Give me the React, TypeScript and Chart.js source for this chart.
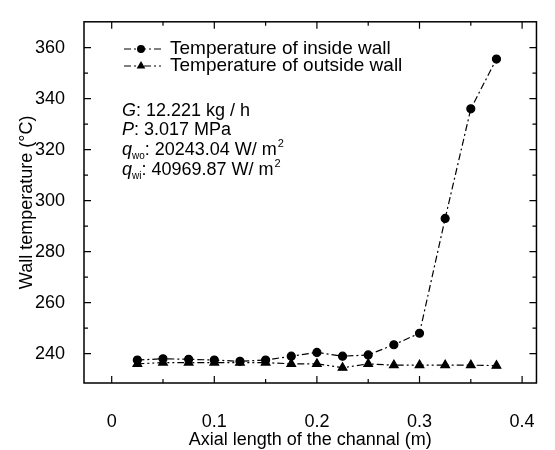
import { useEffect, useRef } from "react";
import { Chart, registerables } from "chart.js";

Chart.register(...registerables);

// Axial positions along the channel (m)
const axialLength = [0.025, 0.05, 0.075, 0.1, 0.125, 0.15, 0.175, 0.2, 0.225, 0.25, 0.275, 0.3, 0.325, 0.35, 0.375];
// Wall temperatures (°C)
const insideWall = [237.5, 238, 237.8, 237.5, 237, 237.5, 239, 240.5, 239, 239.5, 243.5, 248, 293, 336, 355.5];
const outsideWall = [236, 236.5, 236.5, 236.5, 236.5, 236.5, 236, 236, 234.5, 236, 235.5, 235.5, 235.5, 235.5, 235.3];

const seriesLabels = ["Temperature of inside wall", "Temperature of outside wall"];

const xMajorTicks = [0, 0.1, 0.2, 0.3, 0.4];
const xMinorTicks = [0.05, 0.15, 0.25, 0.35];
const yMajorTicks = [240, 260, 280, 300, 320, 340, 360];
const yMinorTicks = [250, 270, 290, 310, 330, 350];

// Operating conditions block
const conditionSymbols = ["G", "P", "q", "q"];
const conditionSubscripts = ["", "", "wo", "wi"];
const conditionValues = [": 12.221 kg / h", ": 3.017 MPa", ": 20243.04 W/ m", ": 40969.87 W/ m"];
const conditionSuperscripts = ["", "", "2", "2"];

const FONT = "'Liberation Sans', Arial, sans-serif";

function drawMarker(ctx: CanvasRenderingContext2D, style: string, r: number, x: number, y: number) {
  ctx.beginPath();
  if (style === "triangle") {
    ctx.moveTo(x, y - r);
    ctx.lineTo(x + r * 0.866, y + r * 0.5);
    ctx.lineTo(x - r * 0.866, y + r * 0.5);
    ctx.closePath();
  } else {
    ctx.arc(x, y, r, 0, Math.PI * 2);
  }
  ctx.fill();
}

// Closed frame with inward major/minor ticks on all four sides
const framePlugin = {
  id: "frame",
  afterDraw(chart: any) {
    const { ctx, chartArea: a, scales } = chart;
    const xs = scales.x;
    const ys = scales.y;
    ctx.save();
    ctx.strokeStyle = "#000";
    ctx.lineWidth = 1.5;
    ctx.setLineDash([]);
    ctx.strokeRect(a.left, a.top, a.right - a.left, a.bottom - a.top);

    ctx.lineWidth = 1.2;
    const tickX = (v: number, len: number) => {
      const px = xs.getPixelForValue(v);
      ctx.beginPath();
      ctx.moveTo(px, a.bottom);
      ctx.lineTo(px, a.bottom - len);
      ctx.moveTo(px, a.top);
      ctx.lineTo(px, a.top + len);
      ctx.stroke();
    };
    const tickY = (v: number, len: number) => {
      const py = ys.getPixelForValue(v);
      ctx.beginPath();
      ctx.moveTo(a.left, py);
      ctx.lineTo(a.left + len, py);
      ctx.moveTo(a.right, py);
      ctx.lineTo(a.right - len, py);
      ctx.stroke();
    };
    xMajorTicks.forEach((v) => tickX(v, 7));
    xMinorTicks.forEach((v) => tickX(v, 4));
    yMajorTicks.forEach((v) => tickY(v, 7));
    yMinorTicks.forEach((v) => tickY(v, 4));
    ctx.restore();
  },
};

// Series key with line sample and marker
const keyPlugin = {
  id: "seriesKey",
  afterDraw(chart: any) {
    const { ctx } = chart;
    const x0 = 124;
    const x1 = 164;
    const rows = [49, 66];
    ctx.save();
    chart.data.datasets.forEach((ds: any, i: number) => {
      const y = rows[i];
      ctx.strokeStyle = "#000";
      ctx.lineWidth = 1.2;
      ctx.setLineDash(ds.borderDash);
      ctx.beginPath();
      ctx.moveTo(x0, y);
      ctx.lineTo(x1, y);
      ctx.stroke();
      ctx.setLineDash([]);
      ctx.fillStyle = "#000";
      drawMarker(ctx, ds.pointStyle, ds.pointRadius, 141, y);
      ctx.font = `19px ${FONT}`;
      ctx.textBaseline = "middle";
      ctx.textAlign = "left";
      ctx.fillText(ds.label, 170, y);
    });
    ctx.restore();
  },
};

const conditionsPlugin = {
  id: "conditions",
  afterDraw(chart: any) {
    const { ctx } = chart;
    const x = 122;
    const rows = [110, 129, 149, 169];
    ctx.save();
    ctx.fillStyle = "#000";
    ctx.textBaseline = "alphabetic";
    ctx.textAlign = "left";
    conditionSymbols.forEach((sym, i) => {
      const base = rows[i] + 6;
      let cx = x;
      ctx.font = `italic 18px ${FONT}`;
      ctx.fillText(sym, cx, base);
      cx += ctx.measureText(sym).width;
      if (conditionSubscripts[i]) {
        ctx.font = `10px ${FONT}`;
        ctx.fillText(conditionSubscripts[i], cx, base + 4);
        cx += ctx.measureText(conditionSubscripts[i]).width;
      }
      ctx.font = `18px ${FONT}`;
      ctx.fillText(conditionValues[i], cx, base);
      cx += ctx.measureText(conditionValues[i]).width;
      if (conditionSuperscripts[i]) {
        ctx.font = `11px ${FONT}`;
        ctx.fillText(conditionSuperscripts[i], cx + 1, base - 8);
      }
    });
    ctx.restore();
  },
};

export default function App() {
  const canvasRef = useRef<HTMLCanvasElement | null>(null);

  useEffect(() => {
    if (!canvasRef.current) return;
    const chart = new Chart(canvasRef.current, {
      type: "line",
      data: {
        datasets: [
          {
            label: seriesLabels[0],
            data: axialLength.map((x, i) => ({ x, y: insideWall[i] })),
            borderColor: "#000",
            backgroundColor: "#000",
            borderWidth: 1.2,
            borderDash: [7, 3, 2, 3],
            pointStyle: "circle",
            pointRadius: 4,
            pointBackgroundColor: "#000",
            pointBorderColor: "#000",
            tension: 0,
          },
          {
            label: seriesLabels[1],
            data: axialLength.map((x, i) => ({ x, y: outsideWall[i] })),
            borderColor: "#000",
            backgroundColor: "#000",
            borderWidth: 1.2,
            borderDash: [7, 3, 2, 3, 2, 3],
            pointStyle: "triangle",
            pointRadius: 5,
            pointBackgroundColor: "#000",
            pointBorderColor: "#000",
            tension: 0,
          },
        ],
      },
      options: {
        animation: false,
        responsive: false,
        layout: { padding: { top: 5, right: 12, left: 0, bottom: 0 } },
        plugins: { legend: { display: false }, tooltip: { enabled: false } },
        scales: {
          x: {
            type: "linear",
            min: -0.027,
            max: 0.414,
            grid: { display: false },
            border: { display: false },
            afterBuildTicks: (s: any) => {
              s.ticks = xMajorTicks.map((value) => ({ value }));
            },
            afterFit: (s: any) => {
              s.height = 67;
            },
            ticks: {
              padding: 20,
              color: "#000",
              font: { family: FONT, size: 18 },
              callback: (v: any) => String(v),
              maxRotation: 0,
              autoSkip: false,
            },
            title: {
              display: true,
              text: "Axial length of the channal (m)",
              color: "#000",
              font: { family: FONT, size: 18 },
              padding: { top: 0, bottom: -1 },
            },
          },
          y: {
            type: "linear",
            min: 228.5,
            max: 370.1,
            grid: { display: false },
            border: { display: false },
            afterBuildTicks: (s: any) => {
              s.ticks = yMajorTicks.map((value) => ({ value }));
            },
            afterFit: (s: any) => {
              s.width = 84;
            },
            ticks: {
              padding: 11,
              color: "#000",
              font: { family: FONT, size: 18 },
              callback: (v: any) => String(v),
              autoSkip: false,
            },
            title: {
              display: true,
              text: "Wall temperature (°C)",
              color: "#000",
              font: { family: FONT, size: 18 },
              padding: { top: 16, bottom: 0 },
            },
          },
        },
      },
      plugins: [framePlugin, keyPlugin, conditionsPlugin],
    } as any);
    return () => chart.destroy();
  }, []);

  return (
    <div style={{ position: "fixed", left: 0, top: 0, width: 555, height: 450, background: "#fff" }}>
      <canvas ref={canvasRef} width={555} height={450} />
    </div>
  );
}
